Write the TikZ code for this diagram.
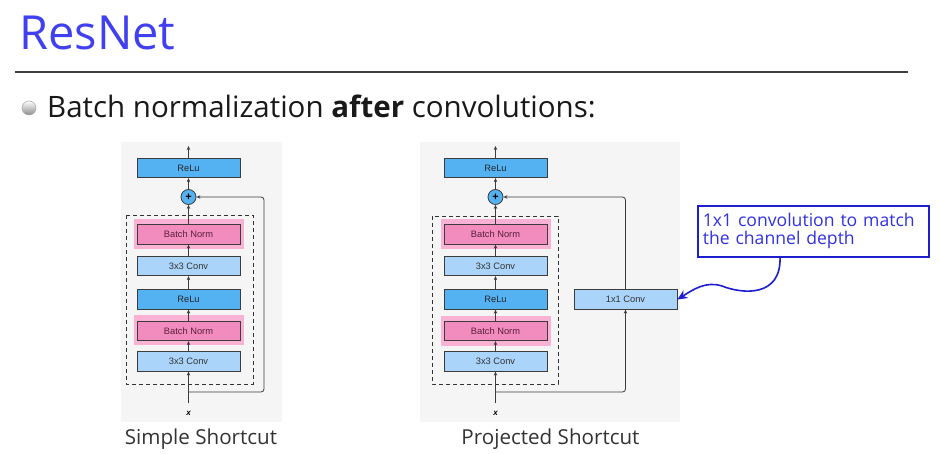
\documentclass[tikz,border=0pt]{standalone}
\usepackage{fontspec}
\setmainfont{Open Sans}
\newfontfamily\arialf{Liberation Sans}
\usetikzlibrary{arrows.meta}
\definecolor{titleblue}{RGB}{64,64,240}
\definecolor{calloutblue}{RGB}{30,30,205}
\definecolor{callouttext}{RGB}{50,50,225}
\definecolor{reluc}{RGB}{84,178,242}
\definecolor{convc}{RGB}{170,212,250}
\definecolor{bnc}{RGB}{242,140,190}
\definecolor{hlc}{RGB}{250,178,212}
\definecolor{panelc}{RGB}{245,245,245}
\definecolor{edgec}{RGB}{60,60,60}
\definecolor{bntext}{RGB}{90,30,60}
\tikzset{
  x=1pt, y=-1pt,
  blk/.style={draw=edgec, line width=0.8pt, minimum width=103pt, minimum height=19.5pt, inner sep=0pt,
     font=\arialf\fontsize{9.3}{10}\selectfont},
  relub/.style={blk, fill=reluc, text=black!85},
  convb/.style={blk, fill=convc, text=black!80},
  bnb/.style={blk, fill=bnc, text=bntext},
  hlb/.style={fill=hlc, minimum width=110pt, minimum height=30pt, inner sep=0pt},
  plusb/.style={circle, draw=edgec, line width=0.8pt, fill=reluc, minimum size=15pt, inner sep=0pt,
     font=\arialf\bfseries\fontsize{11}{11}\selectfont},
  arr/.style={draw=edgec, line width=0.8pt, -{Stealth[length=4pt,width=3.5pt]}},
  dbox/.style={draw=black!80, line width=0.9pt, dash pattern=on 4pt off 3pt},
  xlab/.style={font=\arialf\bfseries\itshape\fontsize{8}{8}\selectfont, inner sep=0pt},
  caption/.style={font=\fontsize{20.6}{22}\selectfont, text=black!80, anchor=base, inner sep=0pt},
}
\begin{document}
\begin{tikzpicture}
\useasboundingbox (0,0) rectangle (940,454);
\fill[white] (0,0) rectangle (940,454);

% Title
\node[anchor=base west, inner sep=0pt, text=titleblue, font=\fontsize{47}{50}\selectfont] (title) at (19,50) {ResNet};
\draw[line width=2pt, draw=black!75] (15,72) -- (908,72);

% Bullet
\shade[top color=white, bottom color=black!45, draw=black!35, line width=0.5pt] (29,108) circle (7);
\node[anchor=base west, inner sep=0pt, text=black!90, font=\fontsize{29.5}{32}\selectfont] (bullet) at (47,118)
  {Batch normalization \textbf{after} convolutions:};

% Panels
\fill[panelc] (121,142) rectangle (282,422);
\fill[panelc] (420,142) rectangle (680,422);

% ===== Left diagram =====
\draw[dbox] (126,215) rectangle (253,384);
\node[hlb] (hlL1) at (189,234) {};
\node[hlb] (hlL2) at (189,330.5) {};
\node[relub] (reluLt) at (188.5,168) {ReLu};
\node[plusb] (plusL) at (188.5,197) {+};
\node[bnb] (bnL1) at (188.5,234.5) {Batch Norm};
\node[convb] (convL1) at (188.5,266) {3x3 Conv};
\node[relub] (reluLm) at (188.5,299.5) {ReLu};
\node[bnb] (bnL2) at (188.5,331) {Batch Norm};
\node[convb] (convL2) at (188.5,361.5) {3x3 Conv};
\node[xlab] (xL) at (188.5,413) {x};
\coordinate (inL) at (188.5,403);
\coordinate (brL) at (188.5,392);
\coordinate (cL1) at (264,392);
\coordinate (cL2) at (264,197);
\coordinate (outL) at (188.5,146);

\draw[arr] (reluLt.north) -- (outL);
\draw[arr] (plusL.north) -- (reluLt.south);
\draw[arr] (bnL1.north) -- (plusL.south);
\draw[arr] (convL1.north) -- (bnL1.south);
\draw[arr] (reluLm.north) -- (convL1.south);
\draw[arr] (bnL2.north) -- (reluLm.south);
\draw[arr] (convL2.north) -- (bnL2.south);
\draw[arr] (inL) -- (convL2.south);
\draw[arr, rounded corners=3pt] (brL) -- (cL1) -- (cL2) -- (plusL.east);

\node[caption] (capL) at (201,444) {Simple Shortcut};

% ===== Right diagram =====
\draw[dbox] (432,216) rectangle (558,384);
\node[hlb] (hlR1) at (496,234.5) {};
\node[hlb] (hlR2) at (496,331) {};
\node[relub] (reluRt) at (495.5,168) {ReLu};
\node[plusb] (plusR) at (495.5,197) {+};
\node[bnb] (bnR1) at (495.5,234.5) {Batch Norm};
\node[convb] (convR1) at (495.5,266) {3x3 Conv};
\node[relub] (reluRm) at (495.5,299.5) {ReLu};
\node[bnb] (bnR2) at (495.5,331) {Batch Norm};
\node[convb] (convR2) at (495.5,361.5) {3x3 Conv};
\node[convb] (conv1) at (625.5,299.5) {1x1 Conv};
\node[xlab] (xR) at (495.5,413) {x};
\coordinate (inR) at (495.5,403);
\coordinate (brR) at (495.5,392);
\coordinate (cR1) at (625.5,392);
\coordinate (cR2) at (625.5,197);
\coordinate (outR) at (495.5,146);

\draw[arr] (reluRt.north) -- (outR);
\draw[arr] (plusR.north) -- (reluRt.south);
\draw[arr] (bnR1.north) -- (plusR.south);
\draw[arr] (convR1.north) -- (bnR1.south);
\draw[arr] (reluRm.north) -- (convR1.south);
\draw[arr] (bnR2.north) -- (reluRm.south);
\draw[arr] (convR2.north) -- (bnR2.south);
\draw[arr] (inR) -- (convR2.south);
\draw[arr, rounded corners=3pt] (brR) -- (cR1) -- (conv1.south);
\draw[arr, rounded corners=3pt] (conv1.north) -- (cR2) -- (plusR.east);

\node[caption] (capR) at (550.5,444) {Projected Shortcut};

% ===== Callout =====
\node[draw=calloutblue, line width=1.6pt, fill=white, text=callouttext, anchor=north west,
      minimum width=231pt, minimum height=51pt, inner xsep=5pt, inner ysep=2pt,
      text width=221pt, align=left, font=\fontsize{17.6}{18}\selectfont] (callout) at (697,205)
  {1x1 convolution to match\\the channel depth};
\coordinate (cbot) at (780,256);
\coordinate (cmid) at (722,286);
\draw[draw=calloutblue, line width=1.6pt, -{Stealth[length=10pt,width=9pt]}]
  (cbot) .. controls (782,298) and (742,294) .. (cmid) .. controls (706,281) and (694,289) .. (conv1.east);
\end{tikzpicture}
\end{document}
